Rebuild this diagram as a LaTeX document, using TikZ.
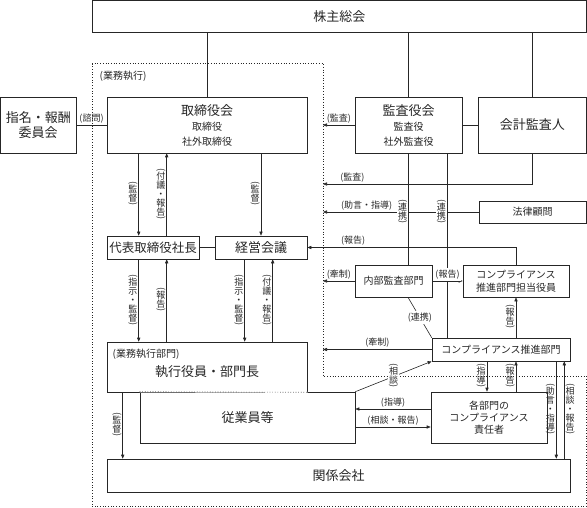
\documentclass[tikz,border=0pt]{standalone}
\usepackage{fontspec}
\setmainfont{Noto Sans CJK JP}
\usepackage{graphicx}
\usetikzlibrary{arrows.meta,positioning}

% vertical label parts
\newcommand{\tatel}{\rotatebox[origin=c]{-90}{(}}
\newcommand{\tater}{\rotatebox[origin=c]{-90}{)}}
\newcommand{\tate}[1]{\tatel\\[-2.5pt]#1\\[-3.5pt]\tater}

\tikzset{
  box/.style={draw, inner sep=0pt},
  big/.style={font=\fontsize{13}{15}\selectfont},
  mid/.style={font=\fontsize{10}{13}\selectfont},
  sml/.style={font=\fontsize{9}{9}\selectfont, inner sep=1.5pt},
  vlab/.style={sml, align=center, inner sep=1pt},
  arr/.style={-{Triangle[length=4pt,width=3.2pt]}},
}

\begin{document}
\begin{tikzpicture}[x=1pt, y=-1pt, line width=0.6pt, color=black!85]
\useasboundingbox (0,0) rectangle (587,508);
% business execution area
\draw[dotted, line width=0.7pt] (92,63) -- (323,63) -- (323,376) -- (586,376) -- (586,506.5) -- (92,506.5) -- cycle;
\coordinate (gyomu) at (323,63);
\node[mid, anchor=west] (gyomulbl) at (96,76) {(業務執行)};
% boxes
\node[box, big, minimum width=494, minimum height=31.5] (soukai) at (339.25,16.25) {株主総会};
\node[box, big, minimum width=75.5, minimum height=56, align=center] (iinkai) at (38.25,125) {指名・報酬\\委員会};
\node[box, font=\fontsize{10}{15}\selectfont, minimum width=200, minimum height=56, align=center] (tori) at (207,125) {{\fontsize{13}{15}\selectfont 取締役会}\\取締役\\社外取締役};
\node[box, font=\fontsize{10}{15}\selectfont, minimum width=107, minimum height=56, align=center] (kansa) at (408.5,125) {{\fontsize{13}{15}\selectfont 監査役会}\\監査役\\社外監査役};
\node[box, big, minimum width=108, minimum height=56] (kaikei) at (532.25,125) {会計監査人};
\node[box, font=\fontsize{12.5}{15}\selectfont, minimum width=92, minimum height=23] (daihyo) at (153,247.5) {代表取締役社長};
\node[box, big, minimum width=92, minimum height=23] (keiei) at (261,247.5) {経営会議};
\node[box, mid, minimum width=107, minimum height=22] (houritsu) at (532.5,212) {法律顧問};
\node[box, mid, minimum width=77, minimum height=32] (naibu) at (393.5,281) {内部監査部門};
\node[box, mid, minimum width=106, minimum height=32, align=center] (tanto) at (516,281) {コンプライアンス\\推進部門担当役員};
\node[box, mid, minimum width=138, minimum height=23] (suishin) at (501,349.5) {コンプライアンス推進部門};
\node[box, minimum width=200, minimum height=50] (shikko) at (207,367) {};
\node[mid, anchor=west] (shikkosub) at (109,354) {(業務執行部門)};
\node[big] (shikkolbl) at (207,372) {執行役員・部門長};
\node[box, big, minimum width=215, minimum height=51] (jugyo) at (247.5,417.5) {従業員等};
\node[box, mid, minimum width=116, minimum height=51, align=center, font=\fontsize{10}{12}\selectfont] (sekinin) at (489,417.5) {各部門の\\コンプライアンス\\責任者};
\node[box, big, minimum width=463, minimum height=33] (kankei) at (338.5,475.5) {関係会社};
% shared edge of executives and employees
\draw[white, line width=1.2pt] (jugyo.north west) -- (shikko.south east);
\draw[dotted] (jugyo.north west) -- (shikko.south east);
% shareholders
\draw (tori.north) -- (tori.north |- soukai.south);
\draw (kansa.north) -- (kansa.north |- soukai.south);
\draw (kaikei.north) -- (kaikei.north |- soukai.south);
\draw (iinkai) -- node[sml, above] (shimon) {(諮問)} (tori);
\draw (kansa) -- (kaikei);
% audit lines
\draw[arr] (kansa.west) -- node[sml, above] (kansalbl) {(監査)} (kansa.west -| gyomu);
\draw[arr] (kaikei.south) |- node[sml, above, pos=0.93] (kaikeilbl) {(監査)} (gyomu |- 0,184);
\draw[arr] (houritsu.west) -- node[sml, above, pos=0.72] (houritsulbl) {(助言・指導)} (houritsu.west -| gyomu);
\coordinate (renkei) at ([xshift=-15]kansa.south east);
\draw (kansa.south) -- node[vlab, left, pos=0.53, fill=white] (renkei1) {\tate{連\\携}} (kansa.south |- naibu.north);
\draw (renkei) -- node[vlab, left, pos=0.32, fill=white] (renkei2) {\tate{連\\携}} (renkei |- suishin.north);
\draw[arr] (tanto.north) |- node[sml, above, pos=0.89] (tantolbl) {(報告)} (keiei.east);
% internal audit
\draw[arr] (naibu.west) -- node[sml, above] (naibulbl) {(牽制)} (naibu.west -| gyomu);
\draw[arr] (naibu) -- node[sml, above, fill=white] (naibutanto) {(報告)} (tanto);
\draw ([xshift=14.5]naibu.south) -- node[sml, fill=white] (naiburenkei) {(連携)} (suishin.north west);
\draw[arr] (tanto.south |- suishin.north) -- node[vlab, left] (suishintanto) {\tate{報\\告}} (tanto.south);
\draw[arr] (suishin.west) -- node[sml, above] (suishinlbl) {(牽制)} (suishin.west -| gyomu);
\draw[arr] (jugyo.north east) -- node[vlab, fill=white] (sodan) {\tate{相\\談}} (suishin.south west);
% compliance department
\coordinate (shido) at ([xshift=-14]suishin.south);
\draw[arr] (shido) -- node[vlab, left] (shidolbl) {\tate{指\\導}} (shido |- sekinin.north);
\draw[arr] (tanto.south |- sekinin.north) -- node[vlab, left] (hokokulbl) {\tate{報\\告}} (tanto.south |- suishin.south);
\coordinate (sek1) at ([yshift=8.5]sekinin.west);
\coordinate (sek2) at ([yshift=-9.5]sekinin.west);
\draw[arr] (sek1) -- node[sml, above] (sek1lbl) {(指導)} (sek1 -| jugyo.east);
\draw[arr] (sek2 -| jugyo.east) -- node[sml, above] (sek2lbl) {(相談・報告)} (sek2);
\coordinate (kan1) at ([xshift=-14]suishin.south east);
\coordinate (kan2) at ([xshift=-6]suishin.south east);
\draw[arr] (kan1) -- node[vlab, left] (kan1lbl) {\tate{助\\言\\・\\指\\導}} (kan1 |- kankei.north);
\draw[arr] (kan2 |- kankei.north) -- node[vlab, right] (kan2lbl) {\tate{相\\談\\・\\報\\告}} (kan2);
\coordinate (kantoku) at ([xshift=16]shikko.south west);
\draw[arr] (kantoku) -- node[vlab, left] (kantokulbl) {\tate{監\\督}} (kantoku |- kankei.north);
% board and president
\coordinate (t1) at ([xshift=32]daihyo.north west);
\coordinate (t2) at ([xshift=60]daihyo.north west);
\draw[arr] (t1 |- tori.south) -- node[vlab, left] (t1lbl) {\tate{監\\督}} (t1);
\draw[arr] (t2) -- node[vlab, left] (t2lbl) {\tate{付\\議\\・\\報\\告}} (t2 |- tori.south);
\draw[arr] (keiei.north |- tori.south) -- node[vlab, left] (t0lbl) {\tate{監\\督}} (keiei.north);
\draw (daihyo) -- (keiei);
\coordinate (t3) at ([xshift=32]daihyo.south west);
\coordinate (t4) at ([xshift=60]daihyo.south west);
\coordinate (t5) at ([xshift=30]keiei.south west);
\coordinate (t6) at ([xshift=58]keiei.south west);
\draw[arr] (t3) -- node[vlab, left] (t3lbl) {\tate{指\\示\\・\\監\\督}} (t3 |- shikko.north);
\draw[arr] (t4 |- shikko.north) -- node[vlab, left] (t4lbl) {\tate{報\\告}} (t4);
\draw[arr] (t5) -- node[vlab, left] (t5lbl) {\tate{指\\示\\・\\監\\督}} (t5 |- shikko.north);
\draw[arr] (t6 |- shikko.north) -- node[vlab, left] (t6lbl) {\tate{付\\議\\・\\報\\告}} (t6);
\end{tikzpicture}
\end{document}
